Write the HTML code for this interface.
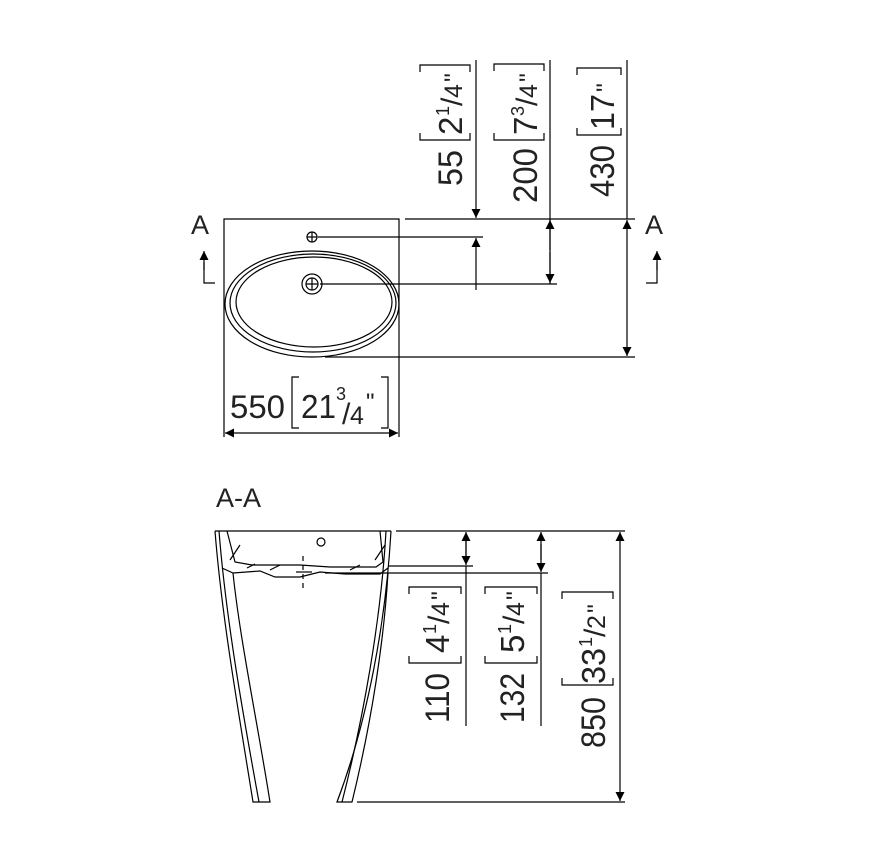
<!DOCTYPE html>
<html><head><meta charset="utf-8"><style>
html,body{margin:0;padding:0;background:#fff;}
svg{display:block;}
text{font-family:"Liberation Sans","DejaVu Sans",sans-serif;fill:#222;}
</style></head><body>
<svg width="894" height="849" viewBox="0 0 894 849" xmlns="http://www.w3.org/2000/svg">
<defs>
<marker id="a" viewBox="0 0 10 10" refX="10" refY="5" markerWidth="15" markerHeight="9" orient="auto-start-reverse" markerUnits="userSpaceOnUse"><path d="M0,0 L10,5 L0,10 z" fill="#000"/></marker>
</defs>
<g stroke="#000" stroke-width="1.2" fill="none">
<path d="M224,437 V219 H399 V437"/>
<ellipse cx="312" cy="304" rx="87" ry="53"/>
<ellipse cx="313" cy="303" rx="83" ry="49"/>
<ellipse cx="314" cy="302" rx="78" ry="45"/>
<circle cx="312" cy="237" r="5"/><path d="M307,237h10M312,232v10"/>
<circle cx="312" cy="284" r="10"/><circle cx="312" cy="284" r="6"/><path d="M306,284h12M312,278v12"/>
<path d="M405,219H635M318,237H483M320,284H557M325,357H635"/>
<path d="M476,60V218" marker-end="url(#a)"/>
<path d="M476,290V238" marker-end="url(#a)"/>
<path d="M550,60V284"/>
<path d="M550,250V220" marker-end="url(#a)"/>
<path d="M550,252V283" marker-end="url(#a)"/>
<path d="M627,60V219"/>
<path d="M627,290V220" marker-end="url(#a)"/>
<path d="M627,290V356" marker-end="url(#a)"/>
<path d="M225,433H398" marker-start="url(#a)" marker-end="url(#a)"/>
<path d="M215,283H204V262"/><path d="M204,270V251" marker-end="url(#a)"/>
<path d="M646,283H657V262"/><path d="M657,270V251" marker-end="url(#a)"/>
<path d="M299,377h-7v51h7M381,377h7v51h-7"/>
<path d="M420,72v-7h50v7M420,133v7h50v-7"/>
<path d="M494,71v-7h50v7M494,133v7h50v-7"/>
<path d="M577,75v-7h44v7M577,128v7h44v-7"/>
<path d="M215,531H391"/>
<path d="M215,531 C222,620 240,720 253,802 H270 C257,720 240,640 233,573"/>
<path d="M219,531 C226,620 244,720 259,802"/>
<path d="M391,531 C386,620 368,720 337,802 H352 C372,720 384,640 388,573"/>
<path d="M386,531 C381,620 363,720 342,802"/>
<path d="M227,531 L235,562 L252,565 H300 L330,567 H376 L383,562 L380,531"/>
<path d="M222,568 L233,573 L260,571 L275,577 H300 L320,572 L345,574 H380 L388,568"/>
<path d="M230,560 L240,545 M247,568 L255,564 M270,570 L280,565 M350,570 L360,565 M375,560 L385,545"/>
<circle cx="321" cy="542" r="4"/>
<path d="M303,556v34" stroke-dasharray="5,4"/><path d="M296,572h16"/>
<path d="M396,531H625M388,566H473M325,573H548M357,802H625"/>
<path d="M466,560V532" marker-end="url(#a)"/><path d="M466,537V565" marker-end="url(#a)"/><path d="M466,566V726"/>
<path d="M541,560V532" marker-end="url(#a)"/><path d="M541,544V572" marker-end="url(#a)"/><path d="M541,573V726"/>
<path d="M620,532V801" marker-start="url(#a)" marker-end="url(#a)"/>
<path d="M409,594v-7h52v7M409,656v7h52v-7"/>
<path d="M485,594v-7h52v7M485,656v7h52v-7"/>
<path d="M562,599v-7h51v7M562,678v7h51v-7"/>
</g>
<text x="191" y="234" font-size="27">A</text>
<text x="645" y="234" font-size="27">A</text>
<text x="216" y="507" font-size="27">A-A</text>
<text x="230" y="418" font-size="32" textLength="55" lengthAdjust="spacingAndGlyphs">550</text>
<text x="301" y="418" font-size="33" textLength="35" lengthAdjust="spacingAndGlyphs">21</text>
<text x="336" y="400" font-size="18">3</text>
<text x="342" y="424" font-size="30">/</text>
<text x="350" y="424" font-size="25">4</text>
<text x="366" y="410" font-size="24">"</text>
<g font-size="34">
<text transform="translate(462,186) rotate(-90)" textLength="36" lengthAdjust="spacingAndGlyphs">55</text>
<text transform="translate(462,135) rotate(-90)" font-size="33">2</text>
<text transform="translate(449,116) rotate(-90)" font-size="18">1</text>
<text transform="translate(462,106) rotate(-90)" font-size="30">/</text>
<text transform="translate(462,98) rotate(-90)" font-size="25">4</text>
<text transform="translate(462,82) rotate(-90)" font-size="25">"</text>
<text transform="translate(537,203) rotate(-90)" textLength="55" lengthAdjust="spacingAndGlyphs">200</text>
<text transform="translate(537,135) rotate(-90)" font-size="33">7</text>
<text transform="translate(524,116) rotate(-90)" font-size="18">3</text>
<text transform="translate(537,106) rotate(-90)" font-size="30">/</text>
<text transform="translate(537,98) rotate(-90)" font-size="25">4</text>
<text transform="translate(537,82) rotate(-90)" font-size="25">"</text>
<text transform="translate(614,197) rotate(-90)" textLength="52" lengthAdjust="spacingAndGlyphs">430</text>
<text transform="translate(614,130) rotate(-90)" font-size="33" textLength="36" lengthAdjust="spacingAndGlyphs">17</text>
<text transform="translate(614,92) rotate(-90)" font-size="25">"</text>
<text transform="translate(449,723) rotate(-90)" textLength="50" lengthAdjust="spacingAndGlyphs">110</text>
<text transform="translate(449,653) rotate(-90)" font-size="33">4</text>
<text transform="translate(436,634) rotate(-90)" font-size="18">1</text>
<text transform="translate(449,624) rotate(-90)" font-size="30">/</text>
<text transform="translate(449,616) rotate(-90)" font-size="25">4</text>
<text transform="translate(449,600) rotate(-90)" font-size="25">"</text>
<text transform="translate(524,723) rotate(-90)" textLength="50" lengthAdjust="spacingAndGlyphs">132</text>
<text transform="translate(524,653) rotate(-90)" font-size="33">5</text>
<text transform="translate(511,634) rotate(-90)" font-size="18">1</text>
<text transform="translate(524,624) rotate(-90)" font-size="30">/</text>
<text transform="translate(524,616) rotate(-90)" font-size="25">4</text>
<text transform="translate(524,600) rotate(-90)" font-size="25">"</text>
<text transform="translate(605,748) rotate(-90)" textLength="51" lengthAdjust="spacingAndGlyphs">850</text>
<text transform="translate(605,684) rotate(-90)" font-size="33" textLength="36" lengthAdjust="spacingAndGlyphs">33</text>
<text transform="translate(592,647) rotate(-90)" font-size="18">1</text>
<text transform="translate(605,637) rotate(-90)" font-size="30">/</text>
<text transform="translate(605,629) rotate(-90)" font-size="25">2</text>
<text transform="translate(605,613) rotate(-90)" font-size="25">"</text>
</g>
</svg>
</body></html>
